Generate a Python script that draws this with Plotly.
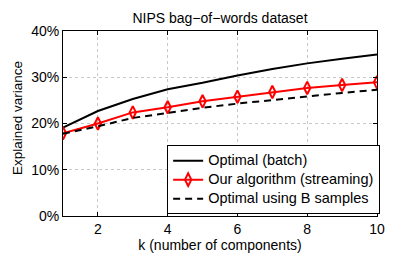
import plotly.graph_objects as go

k = [1, 2, 3, 4, 5, 6, 7, 8, 9, 10]
optimal_batch = [19.1, 22.7, 25.3, 27.4, 28.8, 30.4, 31.8, 33.0, 34.0, 34.9]
our_algorithm = [17.9, 20.0, 22.4, 23.5, 24.8, 25.8, 26.8, 27.7, 28.3, 28.9]
optimal_b = [17.8, 19.4, 21.2, 22.3, 23.4, 24.3, 25.1, 25.9, 26.6, 27.3]
series_names = ["Optimal (batch)", "Our algorithm (streaming)", "Optimal using B samples"]
x_ticks = [2, 4, 6, 8, 10]
y_ticks = [0, 10, 20, 30, 40]
y_tick_labels = ["0%", "10%", "20%", "30%", "40%"]

font = "Liberation Sans, Arial, Helvetica, sans-serif"


def legend_name(s):
    return '<span style="font-size:14.5px">' + s + '</span>'


fig = go.Figure()
fig.add_trace(go.Scatter(x=k, y=optimal_batch, mode="lines", name=legend_name(series_names[0]),
                         line=dict(color="black", width=2)))
fig.add_trace(go.Scatter(x=k, y=our_algorithm, mode="lines+markers", name=legend_name(series_names[1]),
                         line=dict(color="#ff0000", width=2),
                         marker=dict(symbol="diamond-tall-open", size=9, color="#ff0000",
                                     line=dict(width=2, color="#ff0000"))))
fig.add_trace(go.Scatter(x=k, y=optimal_b, mode="lines", name=legend_name(series_names[2]),
                         line=dict(color="black", width=2, dash="7px,5px")))

axis_common = dict(showline=True, linecolor="black", linewidth=1, mirror="ticks",
                   ticks="inside", ticklen=4, tickcolor="black", automargin=False,
                   showgrid=True, gridcolor="#c8c8c8", griddash="dot", gridwidth=1,
                   zeroline=False, tickfont=dict(family=font, size=14, color="black"))

# page has an 8px body margin, so the figure is a bit smaller and margins compensate
fig.update_layout(
    width=407, height=253,
    margin=dict(l=55, r=38, t=23, b=45),
    paper_bgcolor="white", plot_bgcolor="white",
    font=dict(family=font, size=14, color="black"),
    title=dict(text="NIPS bag\u2212of\u2212words dataset", x=0.5, xref="paper", xanchor="center",
               y=0.962, yref="container", yanchor="middle",
               font=dict(family=font, size=14, color="black")),
    xaxis=dict(range=[1, 10], tickvals=x_ticks,
               title=dict(text="k (number of components)", standoff=0,
                          font=dict(family=font, size=14)),
               **axis_common),
    yaxis=dict(range=[0, 40], tickvals=y_ticks, ticktext=y_tick_labels, **axis_common),
    legend=dict(x=1.01, xanchor="right", y=0.01, yanchor="bottom",
                bgcolor="white", bordercolor="black", borderwidth=1,
                font=dict(family=font, size=11, color="black"),
                tracegroupgap=0, itemwidth=30),
    showlegend=True,
    annotations=[dict(text="Explained variance", textangle=-90, showarrow=False,
                      xref="paper", yref="paper", x=0, y=0.5, xanchor="center", yanchor="middle",
                      xshift=-45.5, yshift=5, font=dict(family=font, size=13.5, color="black"))],
)

fig.write_html("out.html")
